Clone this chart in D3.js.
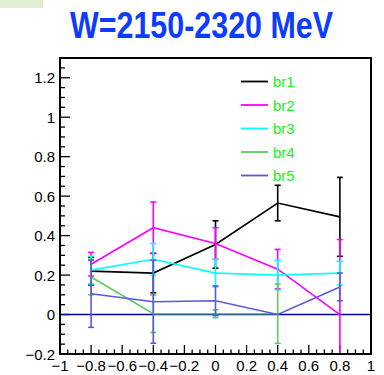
<!DOCTYPE html>
<html>
<head>
<meta charset="utf-8">
<script src="https://cdn.jsdelivr.net/npm/d3@7"></script>
<style>
  html, body { margin: 0; padding: 0; background: #fff; }
  svg { display: block; font-family: "Liberation Sans", Arial, sans-serif; }
</style>
</head>
<body>
<div id="chart"></div>
<script>
const titleText = "W=2150-2320 MeV";
const xs = [-0.8, -0.4, 0, 0.4, 0.8];
const seriesNames = ["br1", "br2", "br3", "br4", "br5"];
const seriesColors = ["#000000", "#ff00ff", "#00ffff", "#5ccc5c", "#5a5ad8"];
const br1 = [0.22, 0.21, 0.355, 0.565, 0.495];
const err1 = [0.07, 0.1, 0.12, 0.09, 0.2];
const br2 = [0.255, 0.44, 0.36, 0.23, 0.0];
const err2 = [0.06, 0.13, 0.08, 0.1, 0.38];
const br3 = [0.225, 0.28, 0.21, 0.2, 0.21];
const err3 = [0.07, 0.08, 0.07, 0.075, 0.06];
const br4 = [0.19, 0.004, 0.004, 0.004, null];
const err4 = [0.09, 0.095, 0.02, 0.15, null];
const br5 = [0.105, 0.065, 0.07, 0.0, 0.14];
const err5 = [0.17, 0.21, 0.075, 0, 0.07];
const xTicks = [-1, -0.8, -0.6, -0.4, -0.2, 0, 0.2, 0.4, 0.6, 0.8, 1];
const yTicks = [-0.2, 0, 0.2, 0.4, 0.6, 0.8, 1, 1.2];

const values = [br1, br2, br3, br4, br5];
const errors = [err1, err2, err3, err4, err5];

const W = 384, H = 375;
const margin = { top: 58, right: 13, bottom: 21, left: 60 };
const iw = W - margin.left - margin.right;
const ih = H - margin.top - margin.bottom;

const svg = d3.select("#chart").append("svg")
  .attr("width", W).attr("height", H);

// small pad box top-left
svg.append("rect").attr("x", 0).attr("y", 0).attr("width", 43).attr("height", 8)
  .attr("fill", "#dfeed3");

svg.append("text")
  .attr("x", 201.5).attr("y", 37.5)
  .attr("text-anchor", "middle")
  .attr("fill", "#0b3cff")
  .style("font-size", "36px")
  .style("font-weight", "bold")
  .attr("textLength", 263)
  .attr("lengthAdjust", "spacingAndGlyphs")
  .text(titleText);

const x = d3.scaleLinear().domain([-1, 1]).range([0, iw]);
const y = d3.scaleLinear().domain([-0.2, 1.3]).range([ih, 0]);

const g = svg.append("g").attr("transform", `translate(${margin.left},${margin.top})`);

g.append("defs").append("clipPath").attr("id", "plotclip")
  .append("rect").attr("width", iw).attr("height", ih);

// minor ticks
const minorX = d3.range(-1, 1.0001, 0.05).map(v => +v.toFixed(2));
const minorY = d3.range(-0.2, 1.3001, 0.05).map(v => +v.toFixed(2));
const isMajor = v => Math.abs(v / 0.2 - Math.round(v / 0.2)) < 1e-6;

g.selectAll(".xmt").data(minorX).enter().append("line")
  .attr("x1", d => x(d)).attr("x2", d => x(d))
  .attr("y1", ih).attr("y2", d => ih - (isMajor(d) ? 9 : 4.5))
  .attr("stroke", "#000").attr("stroke-width", 1.3);

g.selectAll(".ymt").data(minorY).enter().append("line")
  .attr("y1", d => y(d)).attr("y2", d => y(d))
  .attr("x1", 0).attr("x2", d => (isMajor(d) ? 10 : 5))
  .attr("stroke", "#000").attr("stroke-width", 1.3);

const fmt = v => {
  const s = String(+v.toFixed(2));
  return s.replace("-", "\u2212");
};

g.selectAll(".xl").data(xTicks).enter().append("text")
  .attr("x", d => x(d)).attr("y", ih + 17)
  .attr("text-anchor", "middle")
  .style("font-size", "15px").attr("fill", "#000")
  .text(fmt);

g.selectAll(".yl").data(yTicks).enter().append("text")
  .attr("x", -5).attr("y", d => y(d) + 5.5)
  .attr("text-anchor", "end")
  .style("font-size", "15px").attr("fill", "#000")
  .text(fmt);

// zero line
g.append("line")
  .attr("x1", 0).attr("x2", iw).attr("y1", y(0)).attr("y2", y(0))
  .attr("stroke", "#0000a0").attr("stroke-width", 1.6);

const plot = g.append("g").attr("clip-path", "url(#plotclip)");

const line = d3.line()
  .defined(d => d.v !== null)
  .x(d => x(d.x)).y(d => y(d.v));

seriesNames.forEach((name, i) => {
  const pts = xs.map((xv, j) => ({ x: xv, v: values[i][j], e: errors[i][j] }));
  const col = seriesColors[i];
  plot.append("path")
    .datum(pts)
    .attr("fill", "none")
    .attr("stroke", col)
    .attr("stroke-width", 1.6)
    .attr("d", line);

  const eb = plot.append("g").selectAll("g").data(pts.filter(d => d.v !== null && d.e > 0))
    .enter().append("g").attr("stroke", col).attr("stroke-width", 1.6);
  eb.append("line")
    .attr("x1", d => x(d.x)).attr("x2", d => x(d.x))
    .attr("y1", d => y(d.v - d.e)).attr("y2", d => y(d.v + d.e));
  eb.append("line")
    .attr("x1", d => x(d.x) - 3).attr("x2", d => x(d.x) + 3)
    .attr("y1", d => y(d.v + d.e)).attr("y2", d => y(d.v + d.e));
  eb.append("line")
    .attr("x1", d => x(d.x) - 3).attr("x2", d => x(d.x) + 3)
    .attr("y1", d => y(d.v - d.e)).attr("y2", d => y(d.v - d.e));
});

// frame
g.append("rect")
  .attr("width", iw).attr("height", ih)
  .attr("fill", "none").attr("stroke", "#000").attr("stroke-width", 2);

// legend
const legend = svg.append("g").attr("transform", "translate(241,81.5)");
const items = legend.selectAll("g").data(seriesNames).enter().append("g")
  .attr("transform", (d, i) => `translate(0,${i * 23.5})`);
items.append("line")
  .attr("x1", 0).attr("x2", 27).attr("y1", 0).attr("y2", 0)
  .attr("stroke", (d, i) => seriesColors[i]).attr("stroke-width", 1.8);
items.append("text")
  .attr("x", 32).attr("y", 5.5)
  .attr("fill", "#1aef1a")
  .style("font-size", "15px")
  .text(d => d);
</script>
</body>
</html>
